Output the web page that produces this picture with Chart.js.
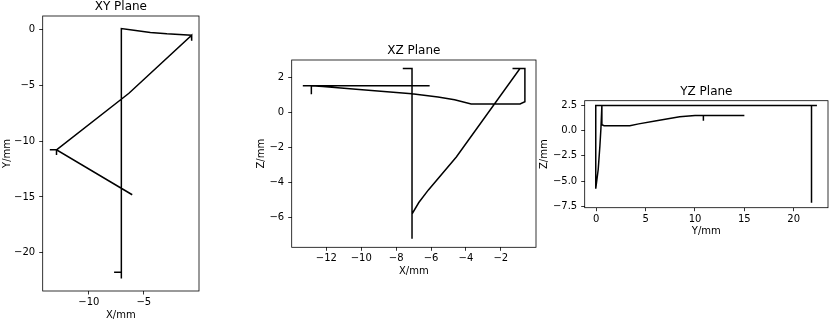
<!DOCTYPE html>
<html>
<head>
<meta charset="utf-8">
<script src="https://cdn.jsdelivr.net/npm/chart.js@4.4.0/dist/chart.umd.min.js"></script>
<style>
  html, body { margin: 0; padding: 0; background: #fff; }
  body { width: 831px; height: 322px; position: relative; overflow: hidden; }
  .plot { position: absolute; }
</style>
</head>
<body>
<div class="plot" style="left:0;top:0;width:205px;height:322px"><canvas id="xy"></canvas></div>
<div class="plot" style="left:250px;top:40px;width:290px;height:282px"><canvas id="xz"></canvas></div>
<div class="plot" style="left:537px;top:80px;width:294px;height:242px"><canvas id="yz"></canvas></div>
<script>
// ─── path projections (mm) ────────────────────────────────────
const xyX = [-7.7, -7.04, -7.04, -7.04, -5.9, -4.4, -2.9, -0.66, -0.62, -0.66, -6.35, -12.94, -12.94, -12.94, -13.55, -12.94, -6.05];
const xyY = [-21.75, -21.75, -22.3, 0.09, -0.06, -0.27, -0.39, -0.51, -1.0, -0.51, -5.71, -10.78, -11.25, -10.78, -10.78, -10.78, -14.8];

const xzX = [-7.62, -7.09, -7.09, -7.09, -6.7, -6.15, -4.55, -0.9, -1.33, -0.62, -0.62, -0.9, -3.7, -4.65, -5.6, -7.1, -10.3, -12.2, -12.86, -12.86, -12.86, -13.35, -6.08];
const xzZ = [2.5, 2.5, -7.22, -5.8, -5.15, -4.43, -2.55, 2.5, 2.5, 2.5, 0.6, 0.48, 0.48, 0.72, 0.88, 1.06, 1.31, 1.48, 1.52, 1.03, 1.52, 1.52, 1.52];

const yzY = [21.8, 21.8, 22.35, -0.05, -0.05, 0.2, 0.37, 0.47, 0.57, 0.57, 0.8, 3.4, 4.3, 6.1, 8.45, 10.0, 10.85, 10.85, 10.85, 15.0];
const yzZ = [-7.17, 2.5, 2.5, 2.5, -5.77, -3.83, -1.5, 0.17, 2.5, 0.6, 0.5, 0.5, 0.68, 1.0, 1.38, 1.5, 1.5, 1.0, 1.5, 1.5];

// tick positions
const xyTicksX = [-10, -5];
const xyTicksY = [0, -5, -10, -15, -20];
const xzTicksX = [-12, -10, -8, -6, -4, -2];
const xzTicksZ = [2, 0, -2, -4, -6];
const yzTicksY = [0, 5, 10, 15, 20];
const yzTicksZ = [2.5, 0, -2.5, -5, -7.5];

Chart.defaults.font.family = 'DejaVu Sans';
Chart.defaults.font.size = 10;
Chart.defaults.color = '#000';
Chart.defaults.animation = false;

// matplotlib-style 5% margins
function lims(arr) {
  const lo = Math.min(...arr), hi = Math.max(...arr), m = (hi - lo) * 0.05;
  return [lo - m, hi + m];
}

const fmt = d => v => (v < 0 ? '\u2212' : '') + Math.abs(v).toFixed(d);

// box around the axes + title centred on them
const frame = {
  id: 'frame',
  afterDraw(chart, args, opts) {
    const { ctx, chartArea: a } = chart;
    ctx.save();
    ctx.strokeStyle = '#000';
    ctx.lineWidth = 0.8;
    ctx.strokeRect(a.left, a.top, a.right - a.left, a.bottom - a.top);
    ctx.font = '12px "DejaVu Sans"';
    ctx.fillStyle = '#000';
    ctx.textAlign = 'center';
    ctx.textBaseline = 'alphabetic';
    ctx.fillText(opts.text, (a.left + a.right) / 2, a.top - 6);
    ctx.restore();
  }
};

function axis(data, ticks, dec, label, vertical, size) {
  const [min, max] = lims(data);
  return {
    type: 'linear', min, max,
    afterBuildTicks: s => { s.ticks = ticks.map(v => ({ value: v })); },
    afterFit: s => { if (vertical) s.width = size; else s.height = size; },
    ticks: { callback: fmt(dec), autoSkip: false, maxRotation: 0, padding: vertical ? 4 : 2 },
    grid: { drawOnChartArea: false, drawTicks: true, tickLength: 3.5, tickColor: '#000', lineWidth: 0.8 },
    border: { display: false },
    title: { display: true, text: label, padding: { top: 1, bottom: 1 } }
  };
}

function plane(id, title, xs, ys, tx, ty, dx, dy, xl, yl, padding, yWidth) {
  new Chart(document.getElementById(id), {
    type: 'scatter',
    data: {
      datasets: [{
        data: xs.map((x, i) => ({ x, y: ys[i] })),
        showLine: true,
        pointRadius: 0,
        borderColor: '#000',
        borderWidth: 1.5
      }]
    },
    options: {
      responsive: true,
      maintainAspectRatio: false,
      events: [],
      layout: { padding },
      plugins: { legend: { display: false }, tooltip: { enabled: false }, frame: { text: title } },
      scales: {
        x: axis(xs, tx, 0, xl, false, 31),
        y: axis(ys, ty, dy, yl, true, yWidth)
      }
    },
    plugins: [frame]
  });
}

plane('xy', 'XY Plane', xyX, xyY, xyTicksX, xyTicksY, 0, 0, 'X/mm', 'Y/mm',
  { left: 0, top: 16, right: 6, bottom: 0 }, 42.7);
plane('xz', 'XZ Plane', xzX, xzZ, xzTicksX, xzTicksZ, 0, 0, 'X/mm', 'Z/mm',
  { left: 4, top: 20, right: 4, bottom: 43.7 }, 37.7);
plane('yz', 'YZ Plane', yzY, yzZ, yzTicksY, yzTicksZ, 0, 1, 'Y/mm', 'Z/mm',
  { left: 0, top: 20.7, right: 3, bottom: 83.3 }, 47.7);
</script>
</body>
</html>
